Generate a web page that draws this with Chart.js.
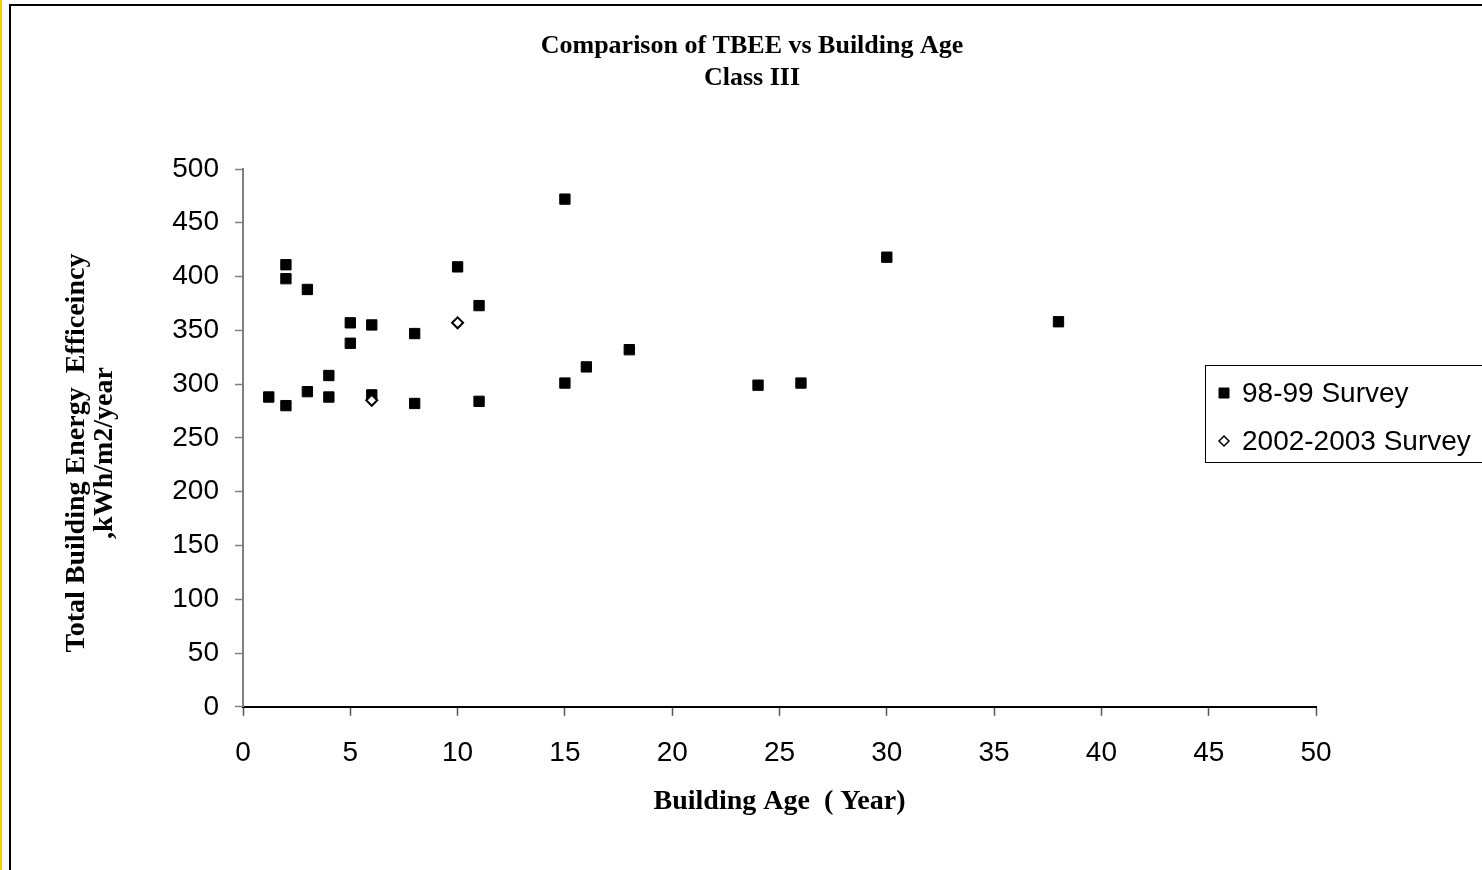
<!DOCTYPE html>
<html>
<head>
<meta charset="utf-8">
<title>Comparison of TBEE vs Building Age</title>
<script src="https://cdn.jsdelivr.net/npm/chart.js"></script>
<style>
  html, body { margin: 0; padding: 0; background: #fff; overflow: hidden; }
  #strip { position: absolute; left: 0; top: 0; width: 2px; height: 870px; background: #f7cf00; }
  #frame { position: absolute; left: 9px; top: 4px; width: 1482px; height: 870px;
           border-left: 2px solid #000; border-top: 2px solid #000; }
</style>
</head>
<body>
<div id="strip"></div>
<div id="frame"><canvas id="chart"></canvas></div>
<script>
// ── data ─────────────────────────────────────────────────
const chartTitle = ['Comparison of TBEE vs Building Age', 'Class III'];
const xTitle = 'Building Age  ( Year)';
const yTitle = ['Total Building Energy  Efficeincy', ',kWh/m2/year'];

const survey9899Label = '98-99 Survey';
const survey9899Age = [1.2, 2, 2, 2, 3, 3, 4, 4, 5, 5, 6, 6, 8, 8, 10, 11, 11, 15, 15, 16, 18, 24, 26, 30, 38];
const survey9899Tbee = [288, 411, 398, 280, 388, 293, 308, 288, 357, 338, 355, 290, 347, 282, 409, 373, 284, 472, 301, 316, 332, 299, 301, 418, 358];

const survey0203Label = '2002-2003 Survey';
const survey0203Age = [6, 10];
const survey0203Tbee = [285, 357];

const xRange = [0, 50, 5];
const yRange = [0, 500, 50];

const toPoints = (xs, ys) => xs.map((x, i) => ({ x: x, y: ys[i] }));

// the title is centred on the whole frame, not on the padded area
const titleShiftPlugin = {
  id: 'titleShift',
  afterLayout(chart) {
    if (chart.titleBlock) chart.titleBlock.left += 16;
  }
};

// ── y axis title (two rotated lines, slightly below centre) ──
const yTitlePlugin = {
  id: 'yTitle',
  afterDraw(chart) {
    const ctx = chart.ctx;
    const cy = 447;
    const lines = [73, 101];
    ctx.save();
    ctx.fillStyle = '#000';
    ctx.font = 'bold 28px "Liberation Serif", "Times New Roman", serif';
    ctx.textAlign = 'center';
    ctx.textBaseline = 'alphabetic';
    yTitle.forEach((t, i) => {
      ctx.save();
      ctx.translate(lines[i], cy);
      ctx.rotate(-Math.PI / 2);
      ctx.fillText(t, 0, 0);
      ctx.restore();
    });
    ctx.restore();
  }
};

// ── boxed legend overlapping the plot's right end ────────
const boxLegendPlugin = {
  id: 'boxLegend',
  afterDraw(chart) {
    const ctx = chart.ctx;
    const left = 1194, top = 359, bottom = 456;
    ctx.save();
    ctx.fillStyle = '#fff';
    ctx.fillRect(left, top, 300, bottom - top);
    ctx.strokeStyle = '#000';
    ctx.lineWidth = 1;
    ctx.strokeRect(left + 0.5, top + 0.5, 300, bottom - top);

    ctx.font = '28px "Liberation Sans", Arial, sans-serif';
    ctx.textBaseline = 'middle';
    ctx.textAlign = 'left';
    chart.data.datasets.forEach((ds, i) => {
      const y = 387 + i * 48;
      const mx = 1213;
      ctx.lineWidth = ds.pointStyle === 'rect' ? 1 : 1.5;
      ctx.fillStyle = ds.pointBackgroundColor;
      ctx.strokeStyle = ds.pointBorderColor;
      ctx.beginPath();
      if (ds.pointStyle === 'rect') {
        ctx.rect(mx - 5, y - 5, 10, 10);
      } else {
        ctx.moveTo(mx, y - 5);
        ctx.lineTo(mx + 5, y);
        ctx.lineTo(mx, y + 5);
        ctx.lineTo(mx - 5, y);
        ctx.closePath();
      }
      ctx.fill();
      ctx.stroke();
      ctx.fillStyle = '#000';
      ctx.fillText(ds.label, 1231, y + 1);
    });
    ctx.restore();
  }
};

const tickFont = { family: '"Liberation Sans", Arial, sans-serif', size: 28 };

new Chart(document.getElementById('chart'), {
  type: 'scatter',
  data: {
    datasets: [
      {
        label: survey9899Label,
        data: toPoints(survey9899Age, survey9899Tbee),
        pointStyle: 'rect',
        pointRadius: 7.3,
        pointHoverRadius: 7.3,
        pointBackgroundColor: '#000',
        pointBorderColor: '#000',
        pointBorderWidth: 1,
        order: 1
      },
      {
        label: survey0203Label,
        data: toPoints(survey0203Age, survey0203Tbee),
        pointStyle: 'rectRot',
        pointRadius: 5.5,
        pointHoverRadius: 5.5,
        pointBackgroundColor: '#fff',
        pointBorderColor: '#000',
        pointBorderWidth: 2,
        order: 0
      }
    ]
  },
  options: {
    responsive: true,
    maintainAspectRatio: false,
    animation: false,
    layout: { padding: { left: 161, right: 177, top: 0, bottom: 57 } },
    plugins: {
      legend: { display: false },
      tooltip: { enabled: false },
      title: {
        display: true,
        text: chartTitle,
        color: '#000',
        font: { family: '"Liberation Serif", "Times New Roman", serif', weight: 'bold', size: 26, lineHeight: 32 / 26 },
        padding: { top: 24, bottom: 75 }
      }
    },
    scales: {
      x: {
        type: 'linear',
        min: xRange[0],
        max: xRange[1],
        ticks: { stepSize: xRange[2], color: '#000', font: tickFont, padding: 21, maxRotation: 0 },
        grid: { display: true, drawOnChartArea: false, drawTicks: true, tickLength: 9, tickColor: '#555', tickWidth: 1.5 },
        border: { display: true, color: '#000', width: 2 },
        title: {
          display: true,
          text: xTitle,
          color: '#000',
          font: { family: '"Liberation Serif", "Times New Roman", serif', weight: 'bold', size: 28 },
          padding: { top: -6, bottom: 0 }
        }
      },
      y: {
        type: 'linear',
        min: yRange[0],
        max: yRange[1],
        ticks: { stepSize: yRange[2], color: '#000', font: tickFont, padding: 16 },
        grid: { display: true, drawOnChartArea: false, drawTicks: true, tickLength: 8, tickColor: '#808080', tickWidth: 1.5 },
        border: { display: true, color: '#808080', width: 2 },
        afterFit(scale) { scale.width = 71; }
      }
    }
  },
  plugins: [titleShiftPlugin, yTitlePlugin, boxLegendPlugin]
});
</script>
</body>
</html>
